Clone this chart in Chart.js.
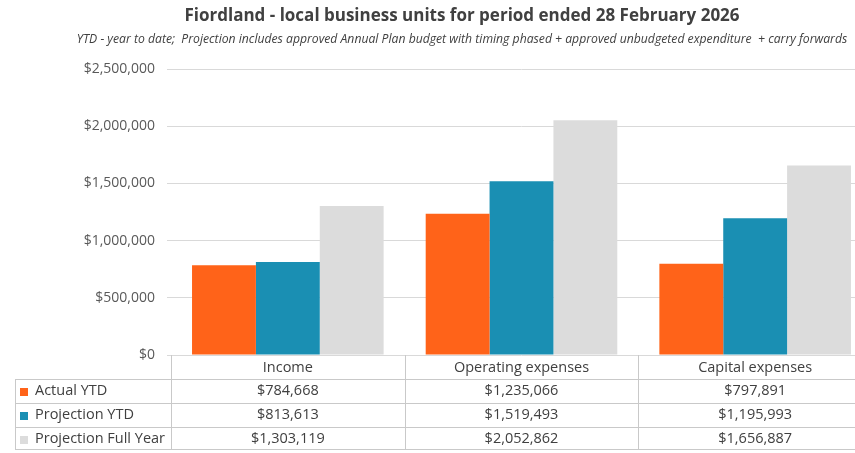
<!DOCTYPE html>
<html><head><meta charset="utf-8">
<script src="https://cdn.jsdelivr.net/npm/chart.js@4.4.1/dist/chart.umd.min.js"></script>
<style>
html,body{margin:0;padding:0;background:#fff;overflow:hidden;width:855px;height:453px}
#wrap{position:relative;width:880px;height:453px}
canvas{display:block}
</style></head><body><div id="wrap"><canvas id="c" width="880" height="453"></canvas></div>
<script>
const categories = ['Income', 'Operating expenses', 'Capital expenses'];
const seriesNames = ['Actual YTD', 'Projection YTD', 'Projection Full Year'];
const actualYTD = [784668, 1235066, 797891];
const projectionYTD = [813613, 1519493, 1195993];
const projectionFullYear = [1303119, 2052862, 1656887];
const yTicks = [0, 500000, 1000000, 1500000, 2000000, 2500000];
const titleText = 'Fiordland - local business units for period ended 28 February 2026';
const subtitleText = 'YTD - year to date;  Projection includes approved Annual Plan budget with timing phased + approved unbudgeted expenditure  + carry forwards';

const colors = ['#FF6319', '#1A8FB3', '#DCDCDC'];
const FONT = "'Open Sans', sans-serif";
const TEXT = '#404040';
const LINE = '#c9c9c9';
const fmt = v => '$' + v.toLocaleString('en-US');
const seriesData = [actualYTD, projectionYTD, projectionFullYear];

const tablePlugin = {
  id: 'dataTable',
  afterDraw(chart) {
    const ctx = chart.ctx;
    const area = chart.chartArea;
    const xs = chart.scales.x;
    const n = categories.length;
    const colW = (area.right - area.left) / n;
    const top = area.bottom;
    const rowH = 24;
    const tableLeft = 15;
    const bottom = top + rowH * (seriesNames.length + 1) - 2;
    ctx.save();
    ctx.strokeStyle = LINE;
    ctx.lineWidth = 1;
    for (let r = 1; r <= seriesNames.length + 1; r++) {
      const y = Math.round(top + rowH * r - (r === seriesNames.length + 1 ? 2 : 0)) + 0.5;
      ctx.beginPath(); ctx.moveTo(tableLeft, y); ctx.lineTo(area.right + 20, y); ctx.stroke();
    }
    for (let i = 0; i < n; i++) {
      const x = Math.round(area.left + i * colW) + 0.5;
      ctx.beginPath(); ctx.moveTo(x, top); ctx.lineTo(x, bottom + 0.5); ctx.stroke();
    }
    ctx.beginPath(); ctx.moveTo(tableLeft + 0.5, top + rowH); ctx.lineTo(tableLeft + 0.5, bottom + 0.5); ctx.stroke();
    ctx.fillStyle = TEXT;
    ctx.font = "14.5px " + FONT;
    ctx.textAlign = 'center';
    ctx.textBaseline = 'middle';
    categories.forEach((c, i) => {
      ctx.fillText(c, xs.getPixelForValue(i), top + rowH / 2 + 1);
    });
    seriesNames.forEach((s, r) => {
      const yc = top + rowH * (r + 1) + rowH / 2;
      ctx.fillStyle = colors[r];
      ctx.fillRect(20, Math.round(yc - 3), 8, 8);
      ctx.fillStyle = TEXT;
      ctx.textAlign = 'left';
      ctx.fillText(s, 35, yc);
      ctx.textAlign = 'center';
      seriesData[r].forEach((v, i) => {
        ctx.fillText(fmt(v), xs.getPixelForValue(i), yc);
      });
    });
    ctx.restore();
  }
};

new Chart(document.getElementById('c'), {
  type: 'bar',
  data: {
    labels: categories,
    datasets: seriesNames.map((name, i) => ({
      label: name,
      data: seriesData[i],
      backgroundColor: colors[i],
      borderWidth: 0,
      categoryPercentage: 0.82,
      barPercentage: 1.0
    }))
  },
  options: {
    responsive: false,
    devicePixelRatio: 1,
    animation: false,
    layout: { padding: { left: 52, right: 8, top: 0, bottom: 0 } },
    plugins: {
      legend: { display: false },
      tooltip: { enabled: false },
      title: {
        display: true, text: titleText, color: TEXT,
        font: { family: FONT, size: 17, weight: 'bold' },
        padding: { top: 6, bottom: 4 }
      },
      subtitle: {
        display: true, text: subtitleText, color: TEXT,
        font: { family: FONT, size: 12.2, style: 'italic' },
        padding: { top: 2, bottom: 22 }
      }
    },
    scales: {
      x: {
        grid: { display: false },
        border: { display: false },
        ticks: { display: false },
        afterFit(scale) { scale.height = 98; }
      },
      y: {
        min: 0, max: 2500000,
        afterBuildTicks(scale) { scale.ticks = yTicks.map(v => ({ value: v })); },
        ticks: {
          color: '#595959', padding: 12,
          font: { family: FONT, size: 14 },
          callback: v => fmt(v)
        },
        grid: { color: '#d9d9d9', tickLength: 4 },
        border: { display: false },
        afterFit(scale) { scale.width = 171 - 52; }
      }
    }
  },
  plugins: [tablePlugin]
});
</script>
</body></html>
